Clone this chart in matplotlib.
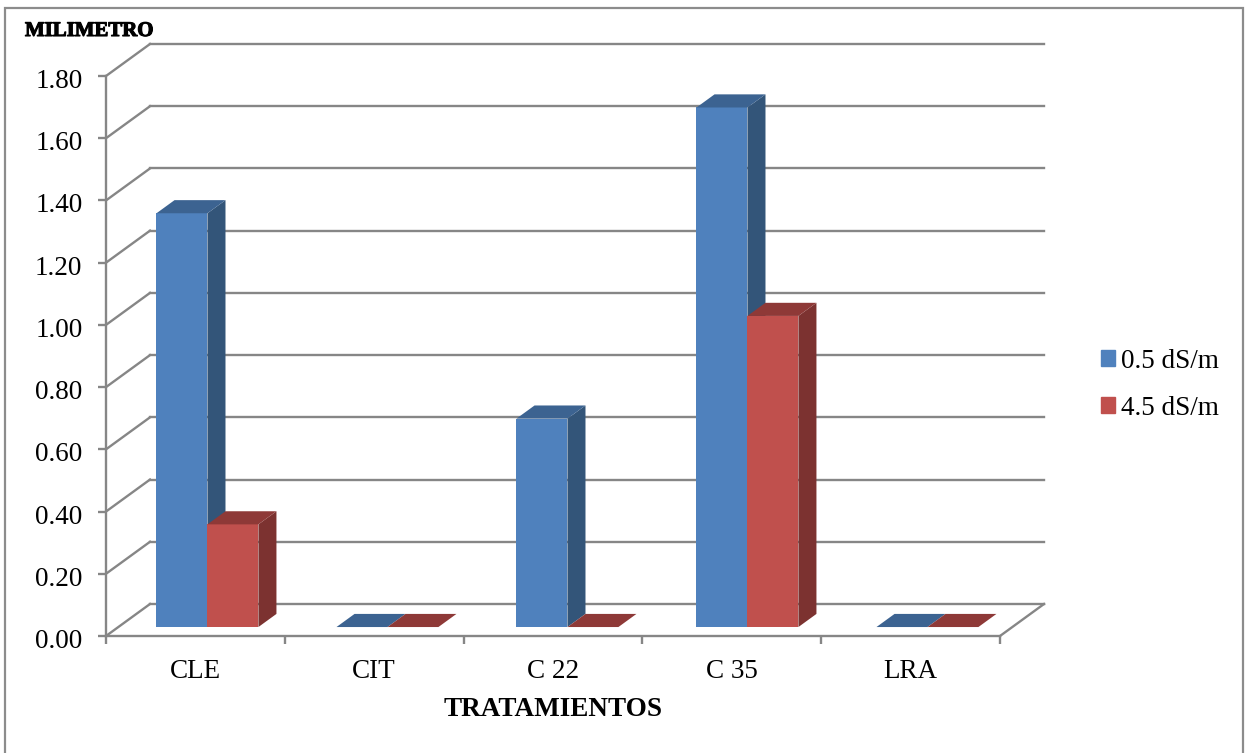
import numpy as np
import matplotlib.pyplot as plt
import matplotlib.patheffects as pe
from matplotlib.patches import Patch, Rectangle
from matplotlib.transforms import ScaledTranslation

plt.rcParams['font.family'] = ['Liberation Serif', 'DejaVu Serif']

categories = ["CLE", "CIT", "C 22", "C 35", "LRA"]
series_names = ["0.5 dS/m", "4.5 dS/m"]
low_salinity = [1.33, 0.0, 0.67, 1.67, 0.0]
high_salinity = [0.33, 0.0, 0.0, 1.00, 0.0]
y_ticks = [0.0, 0.2, 0.4, 0.6, 0.8, 1.0, 1.2, 1.4, 1.6, 1.8]

W, H = 1248, 753
GRAY = "#868686"

# front plane of the plot, in pixels
left, right, top, bottom = 106, 1000, 76, 636

# depth of the fake 3D box and of the bars, in data units
depth_x = 44 / 178.8
depth_y = 32 / 311.1
bar_start = 0.28
bar_end = 0.69
bar_w = 0.285
bar_pitch = 1.0067
bar_offset = 0.2135

face_colors = [("#4f81bd", "#3c6391", "#335579"), ("#c0504d", "#8e3937", "#7c3230")]

fig = plt.figure(figsize=(W / 100, H / 100), dpi=100)
ax = fig.add_axes([left / W, 1 - bottom / H, (right - left) / W, (bottom - top) / H])
ax.set_xlim(0, 5)
ax.set_ylim(0, 1.8)
ax.patch.set_visible(False)

# outer frame, open past the bottom edge
fig.add_artist(Rectangle((5 / W, -0.02), 1238 / W, 1.02 - 8 / H, transform=fig.transFigure,
                         fill=False, edgecolor="#8c8c8c", linewidth=1.6))

# back wall grid and the slanted lines on the side wall
for y in y_ticks:
    ax.plot([0, depth_x], [y, y + depth_y], color=GRAY, lw=1.7, clip_on=False, zorder=1)
    ax.plot([depth_x, 5 + depth_x], [y + depth_y, y + depth_y], color=GRAY, lw=1.7,
            clip_on=False, zorder=1)
ax.plot([5, 5 + depth_x], [0, depth_y], color=GRAY, lw=1.7, clip_on=False, zorder=1)


def draw_bar(x0, value, colors, z):
    front, upper, side = colors
    d0x, d0y = depth_x * bar_start, depth_y * bar_start
    d1x, d1y = depth_x * (bar_end - bar_start), depth_y * (bar_end - bar_start)
    x = x0 + d0x
    base = d0y
    x1 = x + bar_w
    # a zero bar only shows its flat top
    if value > 0:
        ax.fill([x1, x1 + d1x, x1 + d1x, x1], [base, base + d1y, base + value + d1y, base + value],
                color=side, lw=0, clip_on=False, zorder=z)
        ax.fill([x, x1, x1, x], [base, base, base + value, base + value],
                color=front, lw=0, clip_on=False, zorder=z)
    ax.fill([x, x1, x1 + d1x, x + d1x],
            [base + value, base + value, base + value + d1y, base + value + d1y],
            color=upper, lw=0, clip_on=False, zorder=z)


z = 3
for i in range(len(categories)):
    x0 = i * bar_pitch + bar_offset
    draw_bar(x0, low_salinity[i], face_colors[0], z)
    draw_bar(x0 + bar_w, high_salinity[i], face_colors[1], z + 1)
    z += 2

for side in ["top", "right"]:
    ax.spines[side].set_visible(False)
for side in ["left", "bottom"]:
    ax.spines[side].set_color(GRAY)
    ax.spines[side].set_linewidth(1.7)
    ax.spines[side].set_zorder(2)

ax.set_yticks(y_ticks)
ax.set_yticklabels([f"{v:.2f}" for v in y_ticks])
ax.set_xticks(np.arange(0, 6))
ax.set_xticklabels([])
ax.set_xticks(np.arange(0.5, 5), labels=categories, minor=True)
ax.tick_params(axis="y", length=6, width=1.7, color=GRAY, labelsize=19.5, pad=11)
ax.tick_params(axis="x", which="major", length=6, width=1.7, color=GRAY)
ax.tick_params(axis="x", which="minor", length=0, labelsize=19.5, pad=16.5)

# value labels sit a little below their tick
for label in ax.get_yticklabels():
    label.set_transform(label.get_transform() + ScaledTranslation(0, -2.5 / 100, fig.dpi_scale_trans))

fig.text(553 / W, 1 - 709 / H, "TRATAMIENTOS", fontsize=19.5, fontweight="bold",
         ha="center", va="center")
fig.text(25 / W, 1 - 31 / H, "MILIMETRO", fontsize=15, fontweight="bold",
         ha="left", va="center", path_effects=[pe.withStroke(linewidth=0.8, foreground="black")])

handles = [Patch(color=face_colors[0][0]), Patch(color=face_colors[1][0])]
fig.legend(handles, series_names, loc="upper left", bbox_to_anchor=(1098 / W, 1 - 346 / H),
           frameon=False, fontsize=19.5, handlelength=0.52, handleheight=0.52, handletextpad=0.22,
           labelspacing=0.81, borderpad=0.1, borderaxespad=0)

fig.savefig("out.png", dpi=100)
